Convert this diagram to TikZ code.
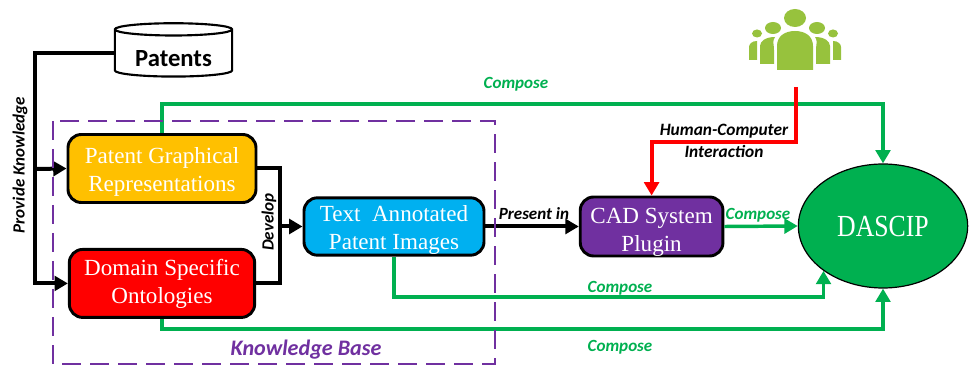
\documentclass[tikz,border=0pt]{standalone}
\usepackage{fontspec}
\setmainfont{Liberation Serif}
\newfontfamily\labelfont{Carlito}
\newfontfamily\narrowfont[FakeStretch=0.84]{Liberation Serif}
\usetikzlibrary{positioning}
\usetikzlibrary{arrows.meta}
\usetikzlibrary{shapes.geometric}
\definecolor{kbpurple}{HTML}{7030A0}
\definecolor{kbgreen}{HTML}{00B050}
\definecolor{kbblue}{HTML}{00B0F0}
\definecolor{kborange}{HTML}{FFC000}
\definecolor{crowd}{HTML}{97C23D}
\newcommand{\lift}[1]{\rule{0pt}{#1pt}}
\tikzset{
  block/.style={draw=black,line width=2.2pt,rounded corners=10pt,text=white,align=center,
    font=\fontsize{17.3}{20.5}\selectfont,inner sep=0pt},
  lab/.style={font=\labelfont\fontsize{12.8}{15.5}\selectfont\bfseries\itshape,align=center,inner sep=0pt},
  complab/.style={lab,text=kbgreen},
  blk/.style={line width=3pt,draw=black},
  grn/.style={line width=2.6pt,draw=kbgreen}
}
\begin{document}
\begin{tikzpicture}[x=0.75pt,y=-0.75pt,>={Triangle[length=10pt,width=11pt]}]
    \useasboundingbox (0,0) rectangle (971,370);

    \node (patents) [draw=black,line width=1.6pt,fill=white,cylinder,shape border rotate=90,aspect=0.16,
      minimum width=88pt,minimum height=40pt,inner sep=0pt,font=\labelfont\fontsize{18.5}{20}\selectfont\bfseries] at (173.5,53.5) {\lift{20}Patents};
    \node (PGR) [block,fill=kborange,minimum width=141pt,minimum height=51pt] at (162,168.5) {\lift{17}Patent Graphical\\Representations};
    \node (DSO) [block,fill=red,minimum width=139pt,minimum height=51pt,below=33pt of PGR] {\lift{13}Domain Specific\\Ontologies};
    \node (TAPI) [block,fill=kbblue,minimum width=135pt,minimum height=43pt] at (394,226.5) {\lift{17}Text\ \ Annotated\\Patent Images};
    \node (CAD) [block,fill=kbpurple,minimum width=107pt,minimum height=43pt,right=70pt of TAPI] {\lift{20}CAD System\\Plugin};
    \node (DASCIP) [draw=black,line width=0.9pt,fill=kbgreen,ellipse,minimum width=127pt,minimum height=93pt,inner sep=0pt,
      text=white,font=\narrowfont\fontsize{23}{26}\selectfont] at (883,226) {DASCIP};

    % the group of people
    \fill [crowd] (795,18) ellipse [x radius=11,y radius=9];
    \fill [crowd] (773,28) ellipse [x radius=8,y radius=6];
    \fill [crowd] (817,28) ellipse [x radius=8,y radius=6];
    \fill [crowd] (757,33.5) ellipse [x radius=5,y radius=4];
    \fill [crowd] (833,33.5) ellipse [x radius=5,y radius=4];
    \fill [crowd] (777,70) -- (777,46) .. controls (777,36) and (785,31) .. (795,31) .. controls (805,31) and (813,36) .. (813,46) -- (813,70) -- cycle;
    \fill [crowd] (760,64) -- (760,46) .. controls (760,41) and (766,37) .. (775,37) .. controls (772,41) and (774,44) .. (774,50) -- (774,64) -- cycle;
    \fill [crowd] (830,64) -- (830,46) .. controls (830,41) and (824,37) .. (815,37) .. controls (818,41) and (816,44) .. (816,50) -- (816,64) -- cycle;
    \fill [crowd] (749,60) -- (749,47) .. controls (749,44) and (752,41) .. (757,41) -- (757,60) -- cycle;
    \fill [crowd] (841,60) -- (841,47) .. controls (841,44) and (838,41) .. (833,41) -- (833,60) -- cycle;

    \coordinate (crowdfoot) at (796,87);
    \coordinate (split) at (35,169);
    \coordinate (merge) at (280,226.5);
    \coordinate (topgreen) at (883,104);
    \coordinate (redbend) at (796,142);
    \coordinate (lowgreen) at (883,329);
    \path (DASCIP.-143.6) ++(0,26) coordinate (midgreen);

    \draw [blk] (patents.west) -| (split);
    \draw [blk,->] (split) -- (PGR.west);
    \draw [blk,->] (split) |- (DSO.west);
    \draw [blk] (PGR.east) -| (merge);
    \draw [blk] (DSO.east) -| (merge);
    \draw [blk,->] (merge) -- (TAPI.west);
    \draw [blk,->] (TAPI.east) -- (CAD.west);

    \draw [grn,->] (PGR.north) |- (topgreen) -- (DASCIP.north);
    \draw [grn,->] (CAD.east) -- (DASCIP.west);
    \draw [grn,->] (TAPI.south) |- (midgreen) -- (DASCIP.-143.6);
    \draw [grn,->] (DSO.south) |- (lowgreen) -- (DASCIP.south);
    \draw [red,line width=3pt,->] (crowdfoot) -- (redbend) -| (CAD.north);

    \draw [kbpurple,line width=2.2pt,dash pattern=on 14pt off 7pt] (53,121) rectangle (495,364);

    \node (provide) [lab,rotate=90] at (20,165) {Provide Knowledge};
    \node (develop) [lab,rotate=90] at (269,222) {Develop};
    \node (present) [lab] at (534,214) {Present in};
    \node (hci) [lab,font=\labelfont\fontsize{13}{16}\selectfont\bfseries\itshape] at (724,141) {Human-Computer\\Interaction};
    \node (kblabel) [lab,text=kbpurple,font=\labelfont\fontsize{16.6}{18}\selectfont\bfseries\itshape] at (306,349.5) {Knowledge Base};
    \node (comp1) [complab] at (516,84.5) {Compose};
    \node (comp2) [complab] at (758,215) {Compose};
    \node (comp3) [complab] at (620,288.5) {Compose};
    \node (comp4) [complab] at (620,347.5) {Compose};
\end{tikzpicture}
\end{document}
